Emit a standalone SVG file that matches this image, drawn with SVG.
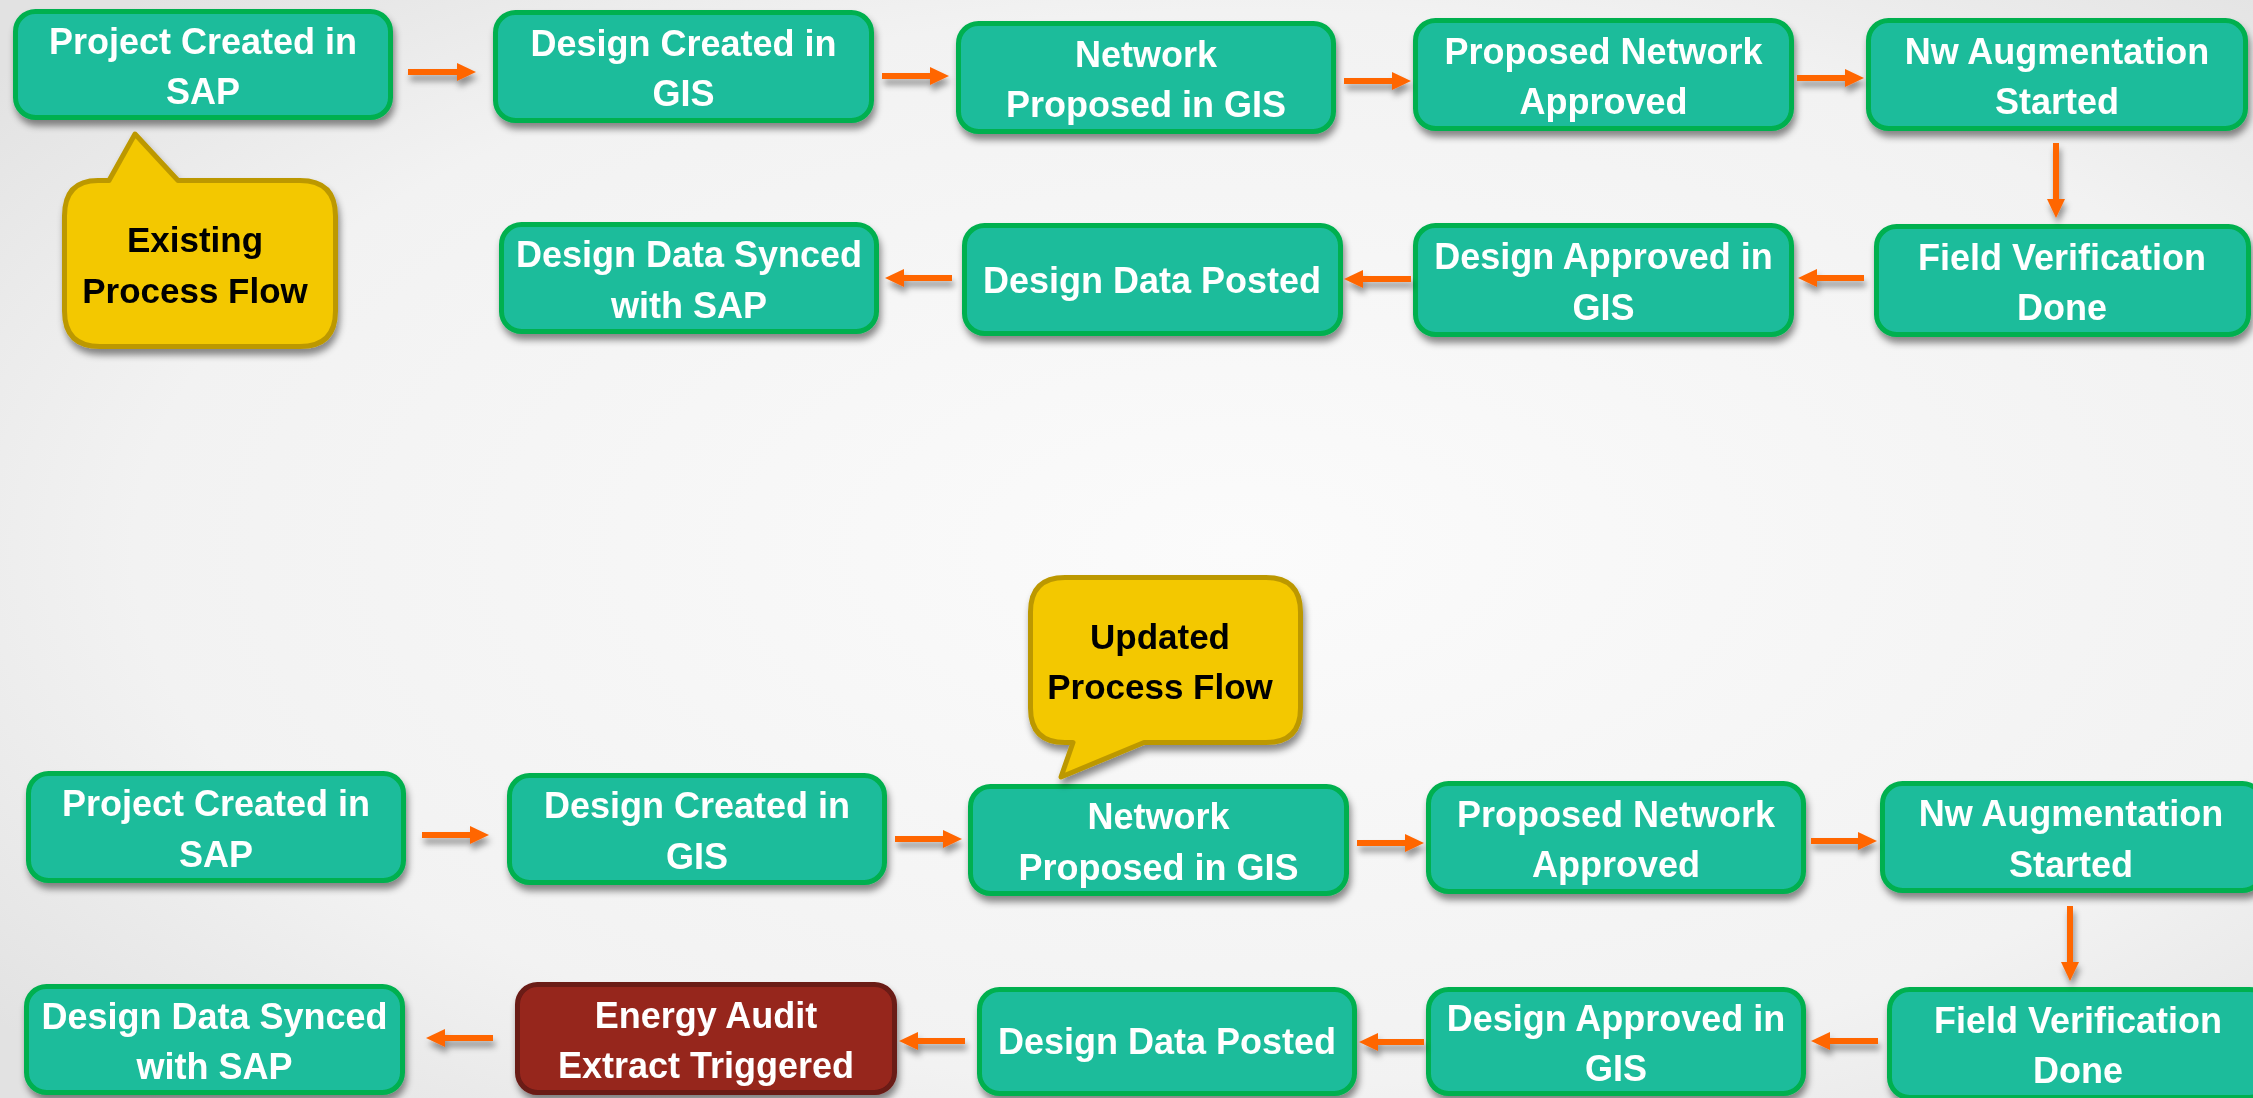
<svg xmlns="http://www.w3.org/2000/svg" width="2253" height="1098" viewBox="0 0 2253 1098">
<defs>
<radialGradient id="bg" cx="55%" cy="50%" r="70%">
<stop offset="0" stop-color="#fbfbfb"/>
<stop offset="0.7" stop-color="#f2f2f2"/>
<stop offset="1" stop-color="#e2e2e2"/>
</radialGradient>
<filter id="sh" x="-10%" y="-20%" width="120%" height="160%">
<feDropShadow dx="2" dy="6" stdDeviation="3.5" flood-color="#000" flood-opacity="0.45"/>
</filter>
<filter id="ash" x="-20%" y="-100%" width="140%" height="400%">
<feDropShadow dx="2" dy="6" stdDeviation="3" flood-color="#000" flood-opacity="0.4"/>
</filter>
<marker id="ah" markerUnits="userSpaceOnUse" markerWidth="19" markerHeight="18" refX="8" refY="9" orient="auto">
<path d="M0,0 L19,9 L0,18 z" fill="#ff6600"/>
</marker>
<style>
.n rect{fill:#1ebc9b;stroke:#00b050;stroke-width:5}
.e rect{fill:#96271e;stroke:#6a1a14;stroke-width:5}
.n,.e,.b{filter:url(#sh)}
.t{font-family:"Liberation Sans",Arial,sans-serif;font-weight:bold;font-size:36px;fill:#fff;text-anchor:middle}
.bt{font-family:"Liberation Sans",Arial,sans-serif;font-weight:bold;font-size:35px;fill:#000;text-anchor:middle}
.b path{fill:#f3c800;stroke:#bc9800;stroke-width:5;stroke-linejoin:round}
.c line{stroke:#ff6600;stroke-width:6;marker-end:url(#ah)}
</style>
</defs>
<rect width="2253" height="1098" fill="url(#bg)"/>

<!-- Top flow -->
<g id="t1" class="n"><rect x="15.5" y="11.5" width="375" height="106" rx="20"/><text class="t" x="203" y="53.5">Project Created in</text><text class="t" x="203" y="104">SAP</text></g>
<g id="t2" class="n"><rect x="495.5" y="12.5" width="376" height="108" rx="20"/><text class="t" x="683.5" y="55.5">Design Created in</text><text class="t" x="683.5" y="106">GIS</text></g>
<g id="t3" class="n"><rect x="958.5" y="23.5" width="375" height="108" rx="20"/><text class="t" x="1146" y="66.5">Network</text><text class="t" x="1146" y="117">Proposed in GIS</text></g>
<g id="t4" class="n"><rect x="1415.5" y="20.5" width="376" height="108" rx="20"/><text class="t" x="1603.5" y="63.5">Proposed Network</text><text class="t" x="1603.5" y="114">Approved</text></g>
<g id="t5" class="n"><rect x="1868.5" y="20.5" width="377" height="108" rx="20"/><text class="t" x="2057" y="63.5">Nw Augmentation</text><text class="t" x="2057" y="114">Started</text></g>
<g id="t6" class="n"><rect x="1876.5" y="226.5" width="372" height="108" rx="20"/><text class="t" x="2062" y="269.5">Field Verification</text><text class="t" x="2062" y="320">Done</text></g>
<g id="t7" class="n"><rect x="1415.5" y="225.5" width="376" height="109" rx="20"/><text class="t" x="1603.5" y="269">Design Approved in</text><text class="t" x="1603.5" y="319.5">GIS</text></g>
<g id="t8" class="n"><rect x="964.5" y="225.5" width="376" height="108" rx="20"/><text class="t" x="1152" y="292.5">Design Data Posted</text></g>
<g id="t9" class="n"><rect x="501.5" y="224.5" width="375" height="107" rx="20"/><text class="t" x="689" y="267">Design Data Synced</text><text class="t" x="689" y="317.5">with SAP</text></g>
<g id="bubble1" class="b"><path d="M98,180.5 L109,180.5 L135,134 L178,180.5 L300,180.5 Q335.5,180.5 335.5,216 L335.5,311 Q335.5,346.5 300,346.5 L100,346.5 Q64.5,346.5 64.5,311 L64.5,216 Q64.5,180.5 98,180.5 Z"/><text class="bt" x="195" y="252">Existing</text><text class="bt" x="195" y="303">Process Flow</text></g>

<!-- Bottom flow -->
<g id="b1" class="n"><rect x="28.5" y="773.5" width="375" height="107" rx="20"/><text class="t" x="216" y="816">Project Created in</text><text class="t" x="216" y="866.5">SAP</text></g>
<g id="b2" class="n"><rect x="509.5" y="775.5" width="375" height="107" rx="20"/><text class="t" x="697" y="818">Design Created in</text><text class="t" x="697" y="868.5">GIS</text></g>
<g id="b3" class="n"><rect x="970.5" y="786.5" width="376" height="107" rx="20"/><text class="t" x="1158.5" y="829">Network</text><text class="t" x="1158.5" y="879.5">Proposed in GIS</text></g>
<g id="b4" class="n"><rect x="1428.5" y="783.5" width="375" height="108" rx="20"/><text class="t" x="1616" y="826.5">Proposed Network</text><text class="t" x="1616" y="877">Approved</text></g>
<g id="b5" class="n"><rect x="1882.5" y="783.5" width="380" height="107" rx="20"/><text class="t" x="2071" y="826">Nw Augmentation</text><text class="t" x="2071" y="876.5">Started</text></g>
<g id="b6" class="n"><rect x="1889.5" y="989.5" width="380" height="108" rx="20"/><text class="t" x="2078" y="1032.5">Field Verification</text><text class="t" x="2078" y="1083">Done</text></g>
<g id="b7" class="n"><rect x="1428.5" y="989.5" width="375" height="104" rx="20"/><text class="t" x="1616" y="1030.5">Design Approved in</text><text class="t" x="1616" y="1081">GIS</text></g>
<g id="b8" class="n"><rect x="979.5" y="989.5" width="375" height="104" rx="20"/><text class="t" x="1167" y="1054">Design Data Posted</text></g>
<g id="b9" class="e"><rect x="517.5" y="984.5" width="377" height="108" rx="20"/><text class="t" x="706" y="1027.5">Energy Audit</text><text class="t" x="706" y="1078">Extract Triggered</text></g>
<g id="b10" class="n"><rect x="26.5" y="986.5" width="376" height="106" rx="20"/><text class="t" x="214.5" y="1028.5">Design Data Synced</text><text class="t" x="214.5" y="1079">with SAP</text></g>
<g id="bubble2" class="b"><path d="M1065,577.5 L1266,577.5 Q1300.5,577.5 1300.5,612 L1300.5,708 Q1300.5,742.5 1266,742.5 L1144,742.5 L1061,777 L1073,742.5 L1065,742.5 Q1030.5,742.5 1030.5,708 L1030.5,612 Q1030.5,577.5 1065,577.5 Z"/><text class="bt" x="1160" y="649">Updated</text><text class="bt" x="1160" y="699">Process Flow</text></g>

<!-- Connectors -->
<g id="connectors" class="c" filter="url(#ash)">
<line x1="408" y1="72" x2="465" y2="72"/>
<line x1="882" y1="76" x2="938" y2="76"/>
<line x1="1344" y1="81" x2="1400" y2="81"/>
<line x1="1797" y1="78" x2="1853" y2="78"/>
<line x1="2056" y1="143" x2="2056" y2="207"/>
<line x1="1864" y1="278" x2="1809" y2="278"/>
<line x1="1411" y1="279" x2="1355" y2="279"/>
<line x1="952" y1="278" x2="896" y2="278"/>
<line x1="422" y1="835" x2="478" y2="835"/>
<line x1="895" y1="839" x2="951" y2="839"/>
<line x1="1357" y1="843" x2="1413" y2="843"/>
<line x1="1811" y1="841" x2="1866" y2="841"/>
<line x1="2070" y1="906" x2="2070" y2="970"/>
<line x1="1878" y1="1041" x2="1822" y2="1041"/>
<line x1="1424" y1="1042" x2="1370" y2="1042"/>
<line x1="965" y1="1041" x2="910" y2="1041"/>
<line x1="493" y1="1038" x2="437" y2="1038"/>
</g>
</svg>
